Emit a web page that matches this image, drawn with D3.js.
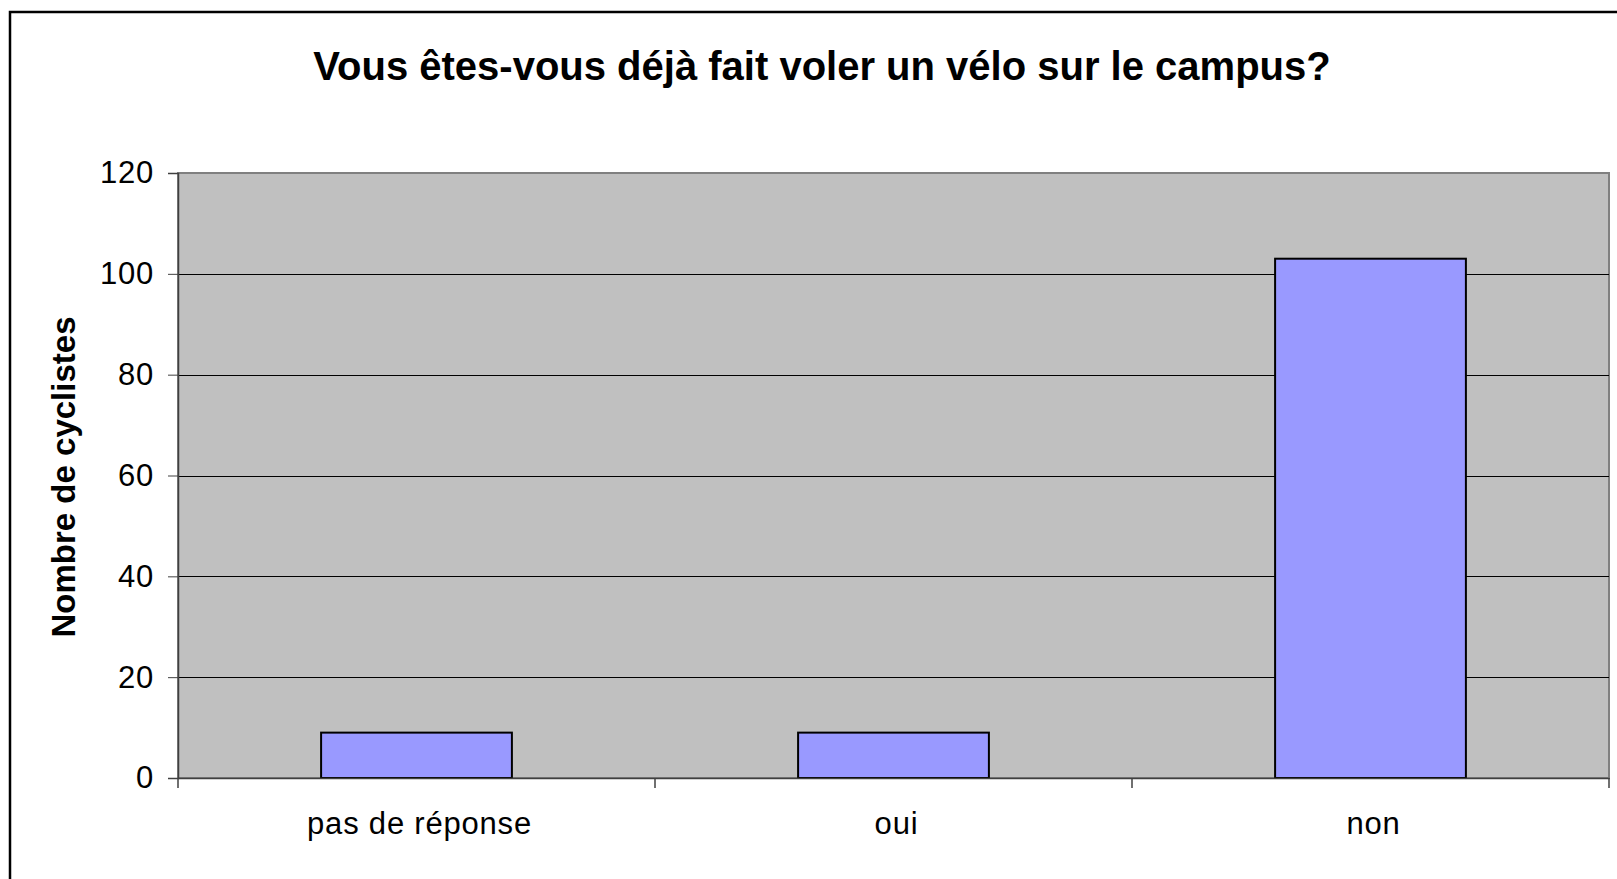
<!DOCTYPE html>
<html>
<head>
<meta charset="utf-8">
<title></title>
<script src="https://cdn.jsdelivr.net/npm/d3@7"></script>
<style>
  body { margin: 0; background: #fff; }
  text { font-family: "Liberation Sans", Arial, sans-serif; }
</style>
</head>
<body>
<svg id="svg"></svg>
<script>
var width = 1617;
var height = 879;

// data
var categories = ["pas de réponse", "oui", "non"];
var values = [9, 9, 103];
var yTicks = [0, 20, 40, 60, 80, 100, 120];
var title = "Vous êtes-vous déjà fait voler un vélo sur le campus?";
var yTitle = "Nombre de cyclistes";

var margin = {top: 173, right: 8, bottom: 101, left: 178};

var svg = d3.select("#svg")
    .attr("width", width)
    .attr("height", height);

// outer chart border (runs off the right and bottom of the page)
svg.append("rect")
    .attr("x", 10).attr("y", 12)
    .attr("width", width + 20).attr("height", height + 20)
    .attr("fill", "none")
    .attr("stroke", "#000")
    .attr("stroke-width", 2.5);

var x = d3.scaleBand()
    .domain(categories)
    .range([margin.left, width - margin.right])
    .paddingInner(0.6)
    .paddingOuter(0.3);

var y = d3.scaleLinear()
    .domain([0, 120])
    .range([height - margin.bottom, margin.top]);

// plot area
svg.append("rect")
    .attr("x", margin.left)
    .attr("y", y(120))
    .attr("width", width - margin.right - margin.left)
    .attr("height", y(0) - y(120))
    .attr("fill", "#c0c0c0")
    .attr("stroke", "#808080")
    .attr("stroke-width", 2);

// gridlines
svg.append("g")
    .selectAll("line")
    .data(yTicks.filter(function(d) { return d > 0 && d < 120; }))
    .join("line")
    .attr("x1", margin.left)
    .attr("x2", width - margin.right)
    .attr("y1", function(d) { return Math.round(y(d)) + 0.5; })
    .attr("y2", function(d) { return Math.round(y(d)) + 0.5; })
    .attr("stroke", "#000")
    .attr("stroke-width", 1);

// bars
svg.append("g")
    .selectAll("rect")
    .data(values)
    .join("rect")
    .attr("x", function(d, i) { return x(categories[i]); })
    .attr("y", function(d) { return y(d); })
    .attr("width", x.bandwidth())
    .attr("height", function(d) { return y(0) - y(d); })
    .attr("fill", "#9999ff")
    .attr("stroke", "#000")
    .attr("stroke-width", 2);

// y axis
var yAxis = svg.append("g")
    .attr("transform", "translate(" + margin.left + ",0)")
    .call(d3.axisLeft(y).tickValues(yTicks).tickSize(10).tickPadding(14));
yAxis.select(".domain").attr("stroke", "#404040").attr("stroke-width", 1.5);
yAxis.selectAll(".tick line").attr("stroke", "#404040");
yAxis.selectAll("text")
    .attr("font-size", 31)
    .attr("letter-spacing", "0.8px")
    .attr("font-family", "'Liberation Sans', Arial, sans-serif")
    .attr("fill", "#000");

// x axis
var xAxis = svg.append("g")
    .attr("transform", "translate(0," + y(0) + ")")
    .call(d3.axisBottom(x).tickSize(0).tickPadding(34));
xAxis.select(".domain").attr("stroke", "#404040").attr("stroke-width", 1.5);
xAxis.selectAll("text")
    .attr("font-size", 31)
    .attr("letter-spacing", "0.8px")
    .attr("dx", 3)
    .attr("font-family", "'Liberation Sans', Arial, sans-serif")
    .attr("fill", "#000");

// category boundary ticks
var bounds = categories.map(function(c) { return x(c) - x.step() * x.paddingOuter(); });
bounds.push(width - margin.right);
svg.append("g")
    .selectAll("line")
    .data(bounds)
    .join("line")
    .attr("x1", function(d) { return d; })
    .attr("x2", function(d) { return d; })
    .attr("y1", y(0))
    .attr("y2", y(0) + 10)
    .attr("stroke", "#404040")
    .attr("stroke-width", 1.5);

// titles
svg.append("text")
    .attr("x", 822)
    .attr("y", 80)
    .attr("text-anchor", "middle")
    .attr("font-size", 40)
    .attr("font-weight", "bold")
    .text(title);

svg.append("text")
    .attr("transform", "translate(75," + 477 + ") rotate(-90)")
    .attr("text-anchor", "middle")
    .attr("font-size", 33)
    .attr("font-weight", "bold")
    .text(yTitle);
</script>
</body>
</html>
